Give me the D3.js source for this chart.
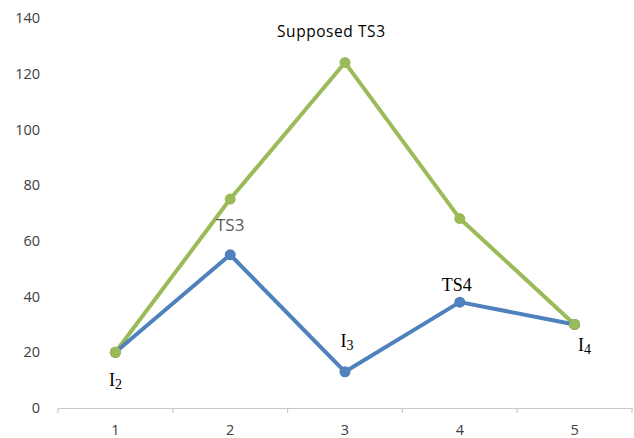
<!DOCTYPE html>
<html>
<head>
<meta charset="utf-8">
<script src="https://cdn.jsdelivr.net/npm/d3@7"></script>
<style>
  body { margin: 0; background: #fff; }
  svg { display: block; }
</style>
</head>
<body>
<svg id="chart" width="634" height="438"></svg>
<script>
// Chart data
const categories = ["1", "2", "3", "4", "5"];
const supposedValues = [20, 75, 124, 68, 30];
const actualValues = [20, 55, 13, 38, 30];
const yTicks = [0, 20, 40, 60, 80, 100, 120, 140];

// Point annotations: category index, series, main text, subscript
const annotations = [
  { i: 2, series: "supposed", text: "Supposed TS3", sub: "", kind: "sans" },
  { i: 1, series: "actual", text: "TS3", sub: "", kind: "sansGray" },
  { i: 3, series: "actual", text: "TS4", sub: "", kind: "serif" },
  { i: 0, series: "actual", text: "I", sub: "2", kind: "serif" },
  { i: 2, series: "actual", text: "I", sub: "3", kind: "serif" },
  { i: 4, series: "actual", text: "I", sub: "4", kind: "serif" }
];

const svg = d3.select("#chart");
const margin = { left: 58, right: 2 };
const width = 634;

const x = d3.scaleBand().domain(categories).range([margin.left, width - margin.right]);
const y = d3.scaleLinear().domain([0, 140]).range([408, 18]);
const cx = c => x(c) + x.bandwidth() / 2;

// Y tick labels (no axis line or gridlines)
svg.append("g").selectAll("text").data(yTicks).join("text")
  .attr("x", 40).attr("y", d => y(d)).attr("dy", "0.35em")
  .attr("text-anchor", "end")
  .attr("font-family", "'Open Sans', sans-serif").attr("font-size", 14.5)
  .attr("fill", "#404040").text(d => d);

// X axis
const xAxis = svg.append("g").attr("transform", `translate(0,${y(0)})`)
  .call(d3.axisBottom(x).tickSize(0).tickPadding(17));
xAxis.select(".domain").attr("stroke", "#c8c8c8").attr("stroke-width", 1.2);
xAxis.selectAll("text").attr("font-family", "'Open Sans', sans-serif")
  .attr("font-size", 14.5).attr("fill", "#404040");
// Category boundary ticks
const bounds = categories.map(c => x(c)).concat([x(categories[categories.length - 1]) + x.bandwidth()]);
svg.append("g").selectAll("line").data(bounds).join("line")
  .attr("x1", d => d).attr("x2", d => d)
  .attr("y1", y(0)).attr("y2", y(0) + 5)
  .attr("stroke", "#c8c8c8").attr("stroke-width", 1.2);

const line = d3.line().x((d, i) => cx(categories[i])).y(d => y(d));

function drawSeries(values, color) {
  svg.append("path").datum(values)
    .attr("d", line).attr("fill", "none")
    .attr("stroke", color).attr("stroke-width", 4)
    .attr("stroke-linejoin", "round").attr("stroke-linecap", "round");
  svg.append("g").selectAll("circle").data(values).join("circle")
    .attr("cx", (d, i) => cx(categories[i])).attr("cy", d => y(d))
    .attr("r", 5.5).attr("fill", color);
}

drawSeries(supposedValues, "#9bbb59");
drawSeries(actualValues, "#4f81bd");
// Green end points drawn on top, where both series meet
svg.append("g").selectAll("circle").data([0, 4]).join("circle")
  .attr("cx", i => cx(categories[i])).attr("cy", i => y(supposedValues[i]))
  .attr("r", 5.5).attr("fill", "#9bbb59");

// Label offsets relative to the annotated point
const offsets = {
  "Supposed TS3": [-14, -30],
  "TS3": [0, -28],
  "TS4": [-3, -15],
  "I2": [0, 30],
  "I3": [2, -29],
  "I4": [10, 23]
};

annotations.forEach(a => {
  const v = a.series === "supposed" ? supposedValues[a.i] : actualValues[a.i];
  const [dx, dy] = offsets[a.text + a.sub];
  const t = svg.append("text")
    .attr("x", cx(categories[a.i]) + dx).attr("y", y(v) + dy)
    .attr("text-anchor", "middle").attr("dominant-baseline", "middle");
  if (a.kind === "sans") {
    t.attr("font-family", "'Open Sans', sans-serif").attr("font-size", 15.5)
      .attr("textLength", 108).attr("fill", "#000").text(a.text);
  } else if (a.kind === "sansGray") {
    t.attr("font-family", "'Open Sans', sans-serif").attr("font-size", 17).attr("fill", "#595959").text(a.text);
  } else {
    t.attr("font-family", "'Liberation Serif', 'Times New Roman', serif").attr("font-size", 18).attr("fill", "#000");
    t.append("tspan").text(a.text);
    if (a.sub) t.append("tspan").attr("font-size", 14).attr("dy", 4).text(a.sub);
  }
});
</script>
</body>
</html>
